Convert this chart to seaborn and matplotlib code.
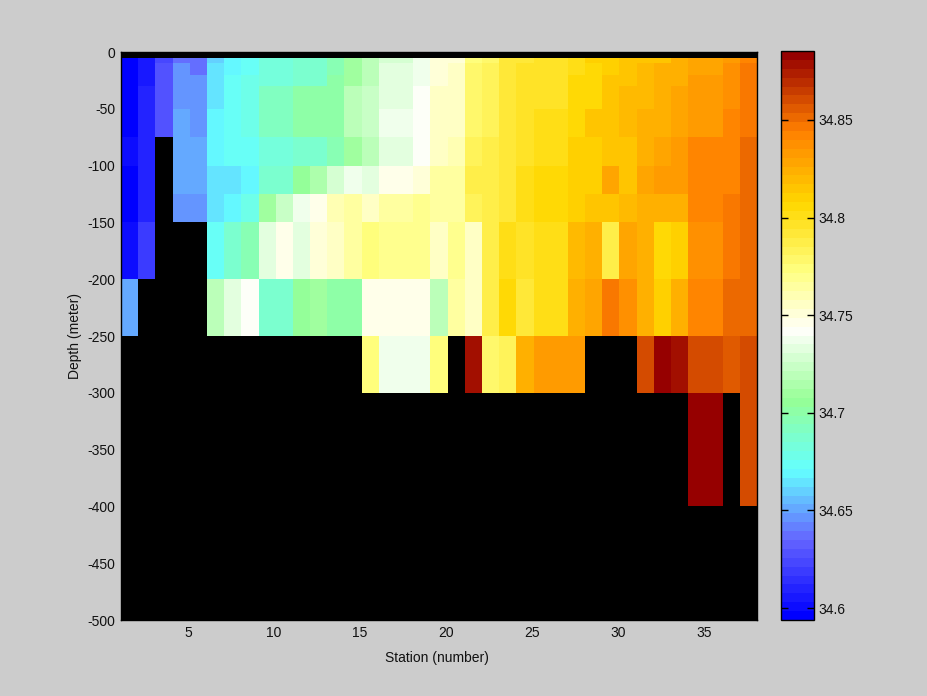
# Salinity section, station vs depth
import numpy as np
import pandas as pd
import matplotlib.pyplot as plt
import seaborn as sns
from matplotlib.colors import LinearSegmentedColormap

nan = np.nan

# Depth layers (meter) - lower edge of each layer, first and last layers have no data
layer_edges = [0, 5, 10, 20, 30, 50, 75, 100, 125, 150, 200, 250, 300, 400, 500]

# Salinity per station, top layer (5-10 m) to bottom layer (300-400 m)
st01 = [34.595, 34.595, 34.595, 34.598, 34.598, 34.602, 34.598, 34.598, 34.602, 34.652, nan, nan]
st02 = [34.606, 34.606, 34.606, 34.610, 34.610, 34.610, 34.610, 34.610, 34.618, nan, nan, nan]
st03 = [34.625, 34.630, 34.630, 34.630, 34.630, nan, nan, nan, nan, nan, nan, nan]
st04 = [34.638, 34.646, 34.646, 34.646, 34.651, 34.651, 34.651, 34.644, nan, nan, nan, nan]
st05 = [34.638, 34.635, 34.646, 34.646, 34.645, 34.651, 34.651, 34.644, nan, nan, nan, nan]
st06 = [34.662, 34.666, 34.666, 34.666, 34.670, 34.670, 34.666, 34.666, 34.675, 34.718, nan, nan]
st07 = [34.670, 34.670, 34.675, 34.675, 34.675, 34.673, 34.666, 34.668, 34.685, 34.732, nan, nan]
st08 = [34.675, 34.675, 34.678, 34.678, 34.678, 34.673, 34.670, 34.677, 34.695, 34.740, nan, nan]
st09 = [34.681, 34.681, 34.681, 34.690, 34.690, 34.683, 34.685, 34.710, 34.732, 34.685, nan, nan]
st10 = [34.681, 34.684, 34.684, 34.690, 34.690, 34.683, 34.685, 34.722, 34.745, 34.685, nan, nan]
st11 = [34.688, 34.688, 34.688, 34.702, 34.702, 34.688, 34.707, 34.738, 34.735, 34.707, nan, nan]
st12 = [34.688, 34.688, 34.688, 34.702, 34.702, 34.688, 34.713, 34.745, 34.750, 34.712, nan, nan]
st13 = [34.695, 34.695, 34.703, 34.703, 34.703, 34.695, 34.726, 34.760, 34.757, 34.703, nan, nan]
st14 = [34.712, 34.712, 34.712, 34.718, 34.718, 34.712, 34.738, 34.764, 34.764, 34.703, nan, nan]
st15 = [34.717, 34.717, 34.717, 34.723, 34.723, 34.717, 34.732, 34.757, 34.773, 34.748, 34.773, nan]
st16 = [34.730, 34.731, 34.731, 34.731, 34.736, 34.731, 34.745, 34.765, 34.770, 34.745, 34.736, nan]
st17 = [34.730, 34.731, 34.731, 34.731, 34.736, 34.731, 34.745, 34.765, 34.770, 34.745, 34.736, nan]
st18 = [34.736, 34.736, 34.736, 34.741, 34.741, 34.741, 34.753, 34.767, 34.770, 34.745, 34.736, nan]
st19 = [34.750, 34.750, 34.750, 34.754, 34.754, 34.754, 34.765, 34.765, 34.757, 34.721, 34.776, nan]
st20 = [34.752, 34.755, 34.755, 34.755, 34.755, 34.760, 34.763, 34.764, 34.767, 34.764, nan, nan]
st21 = [34.776, 34.778, 34.778, 34.778, 34.778, 34.781, 34.788, 34.781, 34.755, 34.757, 34.880, nan]
st22 = [34.777, 34.783, 34.783, 34.783, 34.783, 34.786, 34.786, 34.789, 34.788, 34.787, 34.778, nan]
st23 = [34.790, 34.791, 34.791, 34.791, 34.791, 34.791, 34.791, 34.791, 34.800, 34.805, 34.785, nan]
st24 = [34.793, 34.796, 34.796, 34.798, 34.798, 34.798, 34.803, 34.803, 34.795, 34.793, 34.823, nan]
st25 = [34.795, 34.796, 34.796, 34.796, 34.800, 34.800, 34.806, 34.806, 34.799, 34.799, 34.832, nan]
st26 = [34.795, 34.796, 34.796, 34.796, 34.800, 34.800, 34.806, 34.806, 34.799, 34.799, 34.832, nan]
st27 = [34.800, 34.800, 34.804, 34.804, 34.804, 34.809, 34.809, 34.809, 34.818, 34.823, 34.832, nan]
st28 = [34.808, 34.806, 34.806, 34.806, 34.815, 34.809, 34.809, 34.815, 34.823, 34.828, nan, nan]
st29 = [34.810, 34.812, 34.816, 34.816, 34.816, 34.816, 34.829, 34.815, 34.789, 34.847, nan, nan]
st30 = [34.813, 34.813, 34.813, 34.821, 34.821, 34.816, 34.816, 34.821, 34.828, 34.839, nan, nan]
st31 = [34.815, 34.819, 34.819, 34.819, 34.823, 34.823, 34.828, 34.826, 34.824, 34.822, 34.862, nan]
st32 = [34.815, 34.822, 34.823, 34.823, 34.823, 34.829, 34.833, 34.822, 34.806, 34.810, 34.885, nan]
st33 = [34.823, 34.824, 34.824, 34.829, 34.829, 34.835, 34.833, 34.822, 34.810, 34.822, 34.879, nan]
st34 = [34.830, 34.830, 34.835, 34.835, 34.835, 34.841, 34.841, 34.840, 34.837, 34.842, 34.862, 34.885]
st35 = [34.830, 34.830, 34.835, 34.835, 34.835, 34.841, 34.841, 34.840, 34.837, 34.842, 34.862, 34.885]
st36 = [34.832, 34.838, 34.838, 34.838, 34.844, 34.844, 34.844, 34.847, 34.847, 34.853, 34.856, nan]
st37 = [34.842, 34.847, 34.847, 34.847, 34.847, 34.853, 34.853, 34.853, 34.853, 34.853, 34.862, 34.862]

stations = [st01, st02, st03, st04, st05, st06, st07, st08, st09, st10, st11, st12, st13,
            st14, st15, st16, st17, st18, st19, st20, st21, st22, st23, st24, st25, st26,
            st27, st28, st29, st30, st31, st32, st33, st34, st35, st36, st37]

x_ticks = [5, 10, 15, 20, 25, 30, 35]
y_ticks = [0, 50, 100, 150, 200, 250, 300, 350, 400, 450, 500]
cbar_ticks = [34.6, 34.65, 34.7, 34.75, 34.8, 34.85]
cbar_labels = ['34.6', '34.65', '34.7', '34.75', '34.8', '34.85']
sal_min, sal_max = 34.5939, 34.8853

# Colormap, 64 levels like the original
anchors = [(0.00, (0, 0, 255)), (0.135, (100, 100, 255)), (0.26, (100, 255, 255)),
           (0.385, (150, 255, 150)), (0.51, (255, 255, 250)), (0.615, (255, 255, 128)),
           (0.735, (255, 215, 0)), (0.865, (255, 128, 0)), (1.00, (150, 0, 0))]
cmap = LinearSegmentedColormap.from_list(
    'salinity', [(p, tuple(c / 255 for c in rgb)) for p, rgb in anchors], N=64)

# Put everything on a 5 m grid so the heatmap can show the uneven layers
section = pd.DataFrame(stations).T.to_numpy()
section = np.vstack([np.full((1, section.shape[1]), nan), section, np.full((1, section.shape[1]), nan)])
grid = np.repeat(section, np.diff(layer_edges) // 5, axis=0)

sns.set_theme(style='white')
plt.rcParams['font.family'] = ['Liberation Sans', 'DejaVu Sans']
plt.rcParams['font.size'] = 10

W, H = 928, 696
grey = '#cccccc'
fig = plt.figure(figsize=(W / 100, H / 100), dpi=100, facecolor=grey)
ax = fig.add_axes([121 / W, 1 - 620 / H, 636 / W, 568 / H])
cax = fig.add_axes([781 / W, 1 - 620 / H, 33 / W, 569 / H])

sns.heatmap(grid, ax=ax, cbar_ax=cax, cmap=cmap, vmin=sal_min, vmax=sal_max,
            mask=np.isnan(grid), xticklabels=False, yticklabels=False,
            cbar_kws={'ticks': cbar_ticks})
ax.set_facecolor('black')

ax.set_xticks([s - 1.1 for s in x_ticks])
ax.set_xticklabels([str(s) for s in x_ticks], rotation=0, fontsize=10, color='#111111')
ax.set_yticks([d / 5 for d in y_ticks])
ax.set_yticklabels([str(-d) if d else '0' for d in y_ticks], rotation=0, fontsize=10, color='#111111')
ax.tick_params(length=0, pad=4)
ax.set_xlabel('Station (number)', fontsize=10, color='#111111', labelpad=8)
ax.xaxis.label.set_x(0.497)
ax.set_ylabel('Depth (meter)', fontsize=10, color='#111111', labelpad=4)
for side in ax.spines.values():
    side.set_visible(True)
    side.set_color('black')
    side.set_linewidth(1)

cbar = ax.collections[0].colorbar
cbar.outline.set_visible(True)
cbar.outline.set_edgecolor('black')
cbar.outline.set_linewidth(1)
cbar.set_ticklabels(cbar_labels)
cax.set_axisbelow(False)
cax.tick_params(axis='y', direction='in', left=True, right=True, length=5, width=1,
                color='black', labelsize=10, labelcolor='#111111', pad=3)

fig.savefig('out.png', dpi=100, facecolor=grey)
